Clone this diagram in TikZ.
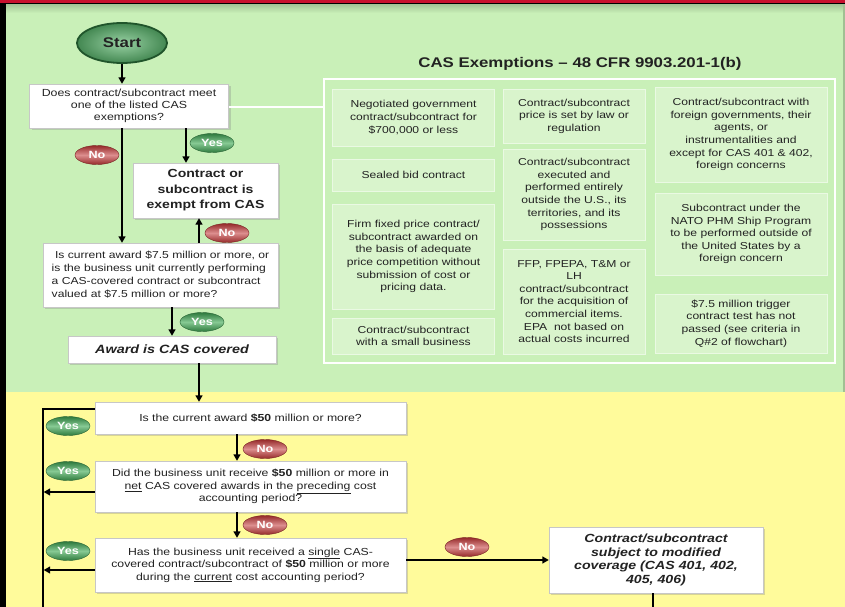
\documentclass[tikz,border=0pt]{standalone}
\usepackage{fontspec}
\setmainfont{Liberation Sans}[FakeStretch=1.2]
\usetikzlibrary{arrows.meta,shapes.geometric,shadows}
\definecolor{bggreen}{HTML}{C9F0B8}
\definecolor{bgyellow}{HTML}{FFFB9B}
\definecolor{cellgreen}{HTML}{D9F4CC}
\definecolor{celledge}{HTML}{EAF9E3}
\definecolor{barred}{HTML}{C8102E}
\definecolor{txt}{HTML}{222222}
\definecolor{nodark}{HTML}{962A2A}
\definecolor{nomid}{HTML}{DC8E8E}
\definecolor{yesdark}{HTML}{2E7A3E}
\definecolor{yesmid}{HTML}{86C993}
\tikzset{
  wbox/.style={draw=black!22, fill=white, text=txt, align=center, inner sep=2pt,
    drop shadow={shadow xshift=2pt, shadow yshift=-2pt, opacity=0.3}},
  cell/.style={draw=celledge, fill=cellgreen, line width=0.8pt, text=txt, align=center,
    inner sep=2pt, font=\fontsize{10.1}{12.6}\selectfont},
  pillno/.style={ellipse, minimum width=44pt, minimum height=19pt, inner sep=0pt,
    draw=nodark!80!black, line width=0.4pt, top color=nodark, bottom color=nodark, middle color=nomid,
    text=white, font=\bfseries\fontsize{10.5}{11}\selectfont},
  pillyes/.style={ellipse, minimum width=44pt, minimum height=19pt, inner sep=0pt,
    draw=yesdark!80!black, line width=0.4pt, top color=yesdark, bottom color=yesdark, middle color=yesmid,
    text=white, font=\bfseries\fontsize{10.5}{11}\selectfont},
  startnode/.style={ellipse, minimum width=90pt, minimum height=40pt, inner sep=0pt,
    draw=yesdark!70!black, line width=1.8pt, inner color=yesmid!85!white, outer color=yesdark!90,
    text=txt, font=\bfseries\fontsize{14}{16}\selectfont},
  arr/.style={-{Triangle[length=6.5pt,width=7pt]}, line width=1.4pt},
  conn/.style={line width=1.4pt}
}
\begin{document}
\begin{tikzpicture}[x=1pt,y=-1pt]
\useasboundingbox (0,0) rectangle (845,607);
% backgrounds
\fill[black] (0,0) rectangle (845,607);
\fill[barred] (0,0) rectangle (845,3);
\fill[bggreen] (6,4.5) rectangle (845,392);
\shade[top color=bggreen!82!black, bottom color=bggreen] (6,4.5) rectangle (845,13);
\fill[bggreen!80!black] (843,4.5) rectangle (845,392);
\fill[bgyellow] (6,392) rectangle (845,607);

% helper x positions
\coordinate (cx1) at (186,0);
\coordinate (cx2) at (199,0);
\coordinate (cx3) at (172,0);
\coordinate (cx4) at (237,0);
\coordinate (lb) at (43,607);

% exemptions panel
\node[font=\bfseries\fontsize{14}{16}\selectfont, text=txt] (ptitle) at (580,64) {CAS Exemptions – 48 CFR 9903.201-1(b)};
\node[draw=white, line width=2pt, minimum width=511pt, minimum height=284pt, inner sep=0pt] (panel) at (579.5,221) {};

\node[cell, minimum width=162pt, minimum height=57pt] (c11) at (413.5,117.5) {Negotiated government\\contract/subcontract for\\\$700,000 or less};
\node[cell, minimum width=162pt, minimum height=32pt] (c12) at (413.5,175) {Sealed bid contract};
\node[cell, minimum width=162pt, minimum height=105pt] (c13) at (413.5,256.5) {Firm fixed price contract/\\subcontract awarded on\\the basis of adequate\\price competition without\\submission of cost or\\pricing data.};
\node[cell, minimum width=162pt, minimum height=36pt] (c14) at (413.5,336) {Contract/subcontract\\with a small business};

\node[cell, minimum width=142pt, minimum height=54pt] (c21) at (574,116) {Contract/subcontract\\price is set by law or\\regulation};
\node[cell, minimum width=142pt, minimum height=91pt] (c22) at (574,194.5) {Contract/subcontract\\executed and\\performed entirely\\outside the U.S., its\\territories, and its\\possessions};
\node[cell, minimum width=142pt, minimum height=105pt] (c23) at (574,301.5) {FFP, FPEPA, T\&M or\\LH\\contract/subcontract\\for the acquisition of\\commercial items.\\EPA \ not based on\\actual costs incurred};

\node[cell, minimum width=172pt, minimum height=95pt] (c31) at (741,134.5) {Contract/subcontract with\\foreign governments, their\\agents, or\\instrumentalities and\\except for CAS 401 \& 402,\\foreign concerns};
\node[cell, minimum width=172pt, minimum height=82pt] (c32) at (741,234) {Subcontract under the\\NATO PHM Ship Program\\to be performed outside of\\the United States by a\\foreign concern};
\node[cell, minimum width=172pt, minimum height=59pt] (c33) at (741,323.5) {\$7.5 million trigger\\contract test has not\\passed (see criteria in\\Q\#2 of flowchart)};

% left flow (green)
\node[startnode] (start) at (122,43) {Start};
\node[wbox, minimum width=199pt, minimum height=44pt, font=\fontsize{10.3}{11.8}\selectfont] (q1) at (129,106) {Does contract/subcontract meet\\one of the listed CAS\\exemptions?};
\node[wbox, minimum width=145pt, minimum height=55pt, font=\bfseries\fontsize{11.7}{15.5}\selectfont] (exempt) at (205.5,190.5) {Contract or\\subcontract is\\exempt from CAS};
\node[wbox, minimum width=235pt, minimum height=64pt, align=left, font=\fontsize{10.1}{13}\selectfont] (q2) at (160.5,275) {\ Is current award \$7.5 million or more, or\\is the business unit currently performing\\a CAS-covered contract or subcontract\\valued at \$7.5 million or more?};
\node[wbox, minimum width=208pt, minimum height=27pt, font=\bfseries\itshape\fontsize{12}{14}\selectfont] (award) at (172,349.5) {Award is CAS covered};

% yellow flow
\node[wbox, minimum width=311pt, minimum height=32pt, font=\fontsize{10.2}{12.5}\selectfont] (q3) at (250.5,418) {Is the current award \textbf{\$50} million or more?};
\node[wbox, minimum width=311pt, minimum height=51pt, font=\fontsize{10.2}{12.5}\selectfont] (q4) at (250.5,486.5) {Did the business unit receive \textbf{\$50} million or more in\\\underline{net} CAS covered awards in the \underline{preceding} cost\\accounting period?};
\node[wbox, minimum width=311pt, minimum height=54pt, font=\fontsize{10.2}{12.5}\selectfont] (q5) at (250.5,565) {Has the business unit received a \underline{single} CAS-\\covered contract/subcontract of \textbf{\$50} million or more\\during the \underline{current} cost accounting period?};
\node[wbox, minimum width=214pt, minimum height=66pt, font=\bfseries\itshape\fontsize{11.8}{13.7}\selectfont] (mod) at (656,560) {Contract/subcontract\\subject to modified\\coverage (CAS 401, 402,\\405, 406)};

% connectors
\draw[white, line width=2pt] ([yshift=-1.5pt]q1.east) coordinate (w1) -- (w1 -| panel.west);
\draw[arr] (start) -- (q1.north -| start.south);
\draw[arr] (q1.south -| start.south) -- (q2.north -| start.south);
\draw[arr] (q1.south -| cx1) -- (exempt.north -| cx1);
\draw[arr] (q2.north -| cx2) -- (exempt.south -| cx2);
\draw[arr] (q2.south -| cx3) -- (award.north -| cx3);
\draw[arr] (award.south -| cx2) -- (q3.north -| cx2);
\draw[arr] (q3.south -| cx4) -- (q4.north -| cx4);
\draw[arr] (q4.south -| cx4) -- (q5.north -| cx4);
\draw[conn] ([yshift=-7pt]q3.north west) -| (lb);
\draw[arr] ([yshift=-5.5pt]q4.west) coordinate (t4) -- ([xshift=0.7pt]t4 -| lb);
\draw[arr] ([yshift=-5pt]q5.west) coordinate (t5) -- ([xshift=0.7pt]t5 -| lb);
\draw[arr] ([yshift=5pt]q5.east) coordinate (t6) -- (t6 -| mod.west);
\draw[conn] (mod.south -| 653,0) -- (653,607);

% pills
\node[pillno] (no1) at (97,155) {No};
\node[pillyes] (yes1) at (212,143) {Yes};
\node[pillno] (no2) at (227,233) {No};
\node[pillyes] (yes2) at (202,322) {Yes};
\node[pillyes] (yes3) at (68,426) {Yes};
\node[pillyes] (yes4) at (68,471) {Yes};
\node[pillyes] (yes5) at (68,551) {Yes};
\node[pillno] (no3) at (265,449) {No};
\node[pillno] (no4) at (265,525) {No};
\node[pillno] (no5) at (467,547) {No};
\end{tikzpicture}
\end{document}
